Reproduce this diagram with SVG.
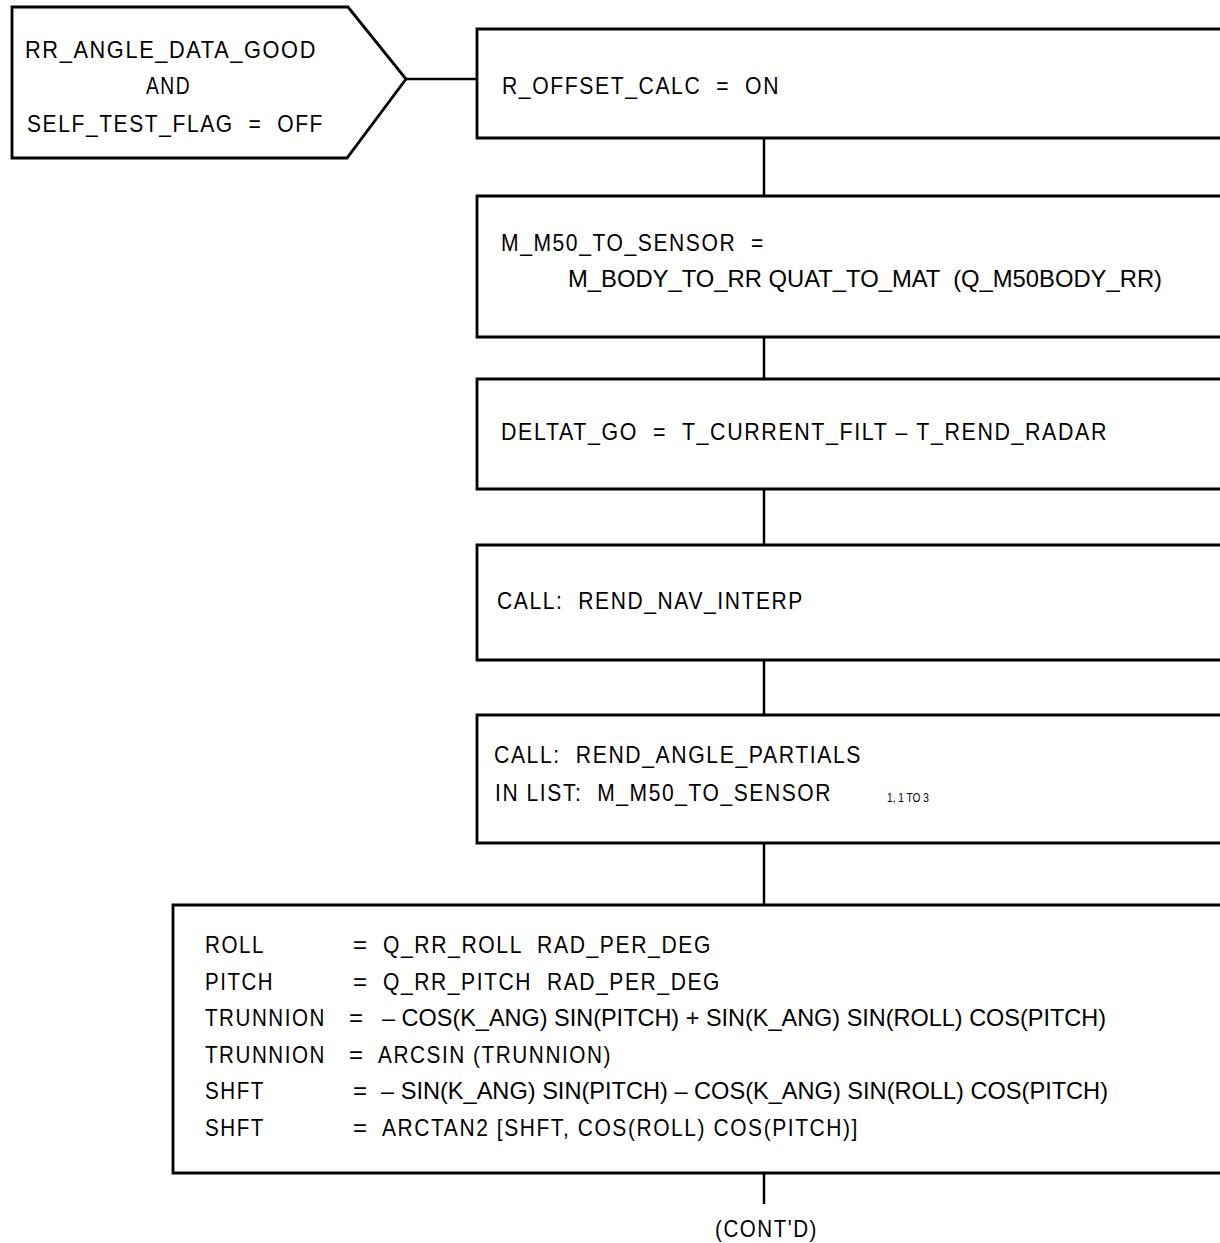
<svg xmlns="http://www.w3.org/2000/svg" width="1220" height="1243" viewBox="0 0 1220 1243">
<style>
  .shape { fill: #ffffff; stroke: #000000; stroke-width: 2.8; }
  .conn { stroke: #000000; stroke-width: 2.5; fill: none; }
  text { font-family: "Liberation Sans", Arial, sans-serif; font-size: 24px; letter-spacing: 1.8px; fill: #000000; white-space: pre; }
  .long { letter-spacing: 0px; }
  .sub { font-size: 12.5px; letter-spacing: 0px; }
</style>
<rect width="1220" height="1243" fill="#ffffff"/>
<g id="connectors">
  <line class="conn" x1="406" y1="79" x2="477" y2="79"/>
  <line class="conn" x1="764" y1="138" x2="764" y2="196"/>
  <line class="conn" x1="764" y1="337" x2="764" y2="379"/>
  <line class="conn" x1="764" y1="489" x2="764" y2="545"/>
  <line class="conn" x1="764" y1="660" x2="764" y2="715"/>
  <line class="conn" x1="764" y1="843" x2="764" y2="905"/>
  <line class="conn" x1="764" y1="1173" x2="764" y2="1204"/>
</g>
<g id="condition">
  <polygon class="shape" points="12,7 348,7 406,79 347,158 12,158"/>
  <text x="25" y="58" textLength="292" lengthAdjust="spacingAndGlyphs">RR_ANGLE_DATA_GOOD</text>
  <text x="146" y="94" textLength="45" lengthAdjust="spacingAndGlyphs">AND</text>
  <text x="27" y="132" textLength="297" lengthAdjust="spacingAndGlyphs">SELF_TEST_FLAG  =  OFF</text>
</g>
<g id="box1">
  <path class="shape" d="M1220,29 H477 V138 H1220"/>
  <text x="502" y="94" textLength="278" lengthAdjust="spacingAndGlyphs">R_OFFSET_CALC  =  ON</text>
</g>
<g id="box2">
  <path class="shape" d="M1220,196 H477 V337 H1220"/>
  <text x="501" y="251" textLength="264" lengthAdjust="spacingAndGlyphs">M_M50_TO_SENSOR  =</text>
  <text class="long" x="568" y="287" textLength="594" lengthAdjust="spacingAndGlyphs">M_BODY_TO_RR QUAT_TO_MAT  (Q_M50BODY_RR)</text>
</g>
<g id="box3">
  <path class="shape" d="M1220,379 H477 V489 H1220"/>
  <text x="501" y="440" textLength="607" lengthAdjust="spacingAndGlyphs">DELTAT_GO  =  T_CURRENT_FILT – T_REND_RADAR</text>
</g>
<g id="box4">
  <path class="shape" d="M1220,545 H477 V660 H1220"/>
  <text x="497" y="609" textLength="307" lengthAdjust="spacingAndGlyphs">CALL:  REND_NAV_INTERP</text>
</g>
<g id="box5">
  <path class="shape" d="M1220,715 H477 V843 H1220"/>
  <text x="494" y="763" textLength="368" lengthAdjust="spacingAndGlyphs">CALL:  REND_ANGLE_PARTIALS</text>
  <text x="495" y="801" textLength="337" lengthAdjust="spacingAndGlyphs">IN LIST:  M_M50_TO_SENSOR</text>
  <text class="sub" x="887" y="802" textLength="42" lengthAdjust="spacingAndGlyphs">1, 1 TO 3</text>
</g>
<g id="box6">
  <path class="shape" d="M1220,905 H173 V1173 H1220"/>
  <text x="205" y="953" textLength="60" lengthAdjust="spacingAndGlyphs">ROLL</text>
  <text x="353" y="953">=</text>
  <text x="383" y="953" textLength="329" lengthAdjust="spacingAndGlyphs">Q_RR_ROLL  RAD_PER_DEG</text>
  <text x="205" y="990" textLength="69" lengthAdjust="spacingAndGlyphs">PITCH</text>
  <text x="353" y="990">=</text>
  <text x="383" y="990" textLength="338" lengthAdjust="spacingAndGlyphs">Q_RR_PITCH  RAD_PER_DEG</text>
  <text x="205" y="1026" textLength="121" lengthAdjust="spacingAndGlyphs">TRUNNION</text>
  <text x="349" y="1026">=</text>
  <text class="long" x="382" y="1026" textLength="724" lengthAdjust="spacingAndGlyphs">– COS(K_ANG) SIN(PITCH) + SIN(K_ANG) SIN(ROLL) COS(PITCH)</text>
  <text x="205" y="1063" textLength="121" lengthAdjust="spacingAndGlyphs">TRUNNION</text>
  <text x="349" y="1063">=</text>
  <text x="378" y="1063" textLength="234" lengthAdjust="spacingAndGlyphs">ARCSIN (TRUNNION)</text>
  <text x="205" y="1099" textLength="60" lengthAdjust="spacingAndGlyphs">SHFT</text>
  <text x="353" y="1099">=</text>
  <text class="long" x="381" y="1099" textLength="727" lengthAdjust="spacingAndGlyphs">– SIN(K_ANG) SIN(PITCH) – COS(K_ANG) SIN(ROLL) COS(PITCH)</text>
  <text x="205" y="1136" textLength="60" lengthAdjust="spacingAndGlyphs">SHFT</text>
  <text x="353" y="1136">=</text>
  <text x="382" y="1136" textLength="477" lengthAdjust="spacingAndGlyphs">ARCTAN2 [SHFT, COS(ROLL) COS(PITCH)]</text>
</g>
<g id="contd">
  <text x="715" y="1237" textLength="103" lengthAdjust="spacingAndGlyphs">(CONT'D)</text>
</g>
</svg>
